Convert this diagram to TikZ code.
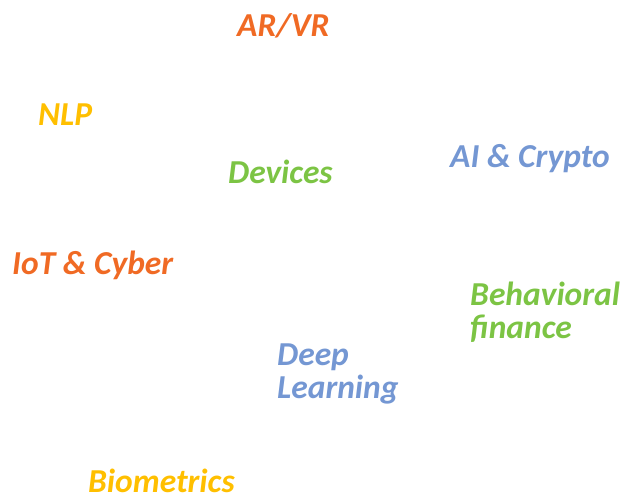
\documentclass[tikz,border=0pt]{standalone}
\usepackage{fontspec}
\setmainfont{Carlito}
\definecolor{tagorange}{HTML}{F06A24}
\definecolor{tagyellow}{HTML}{FFBF00}
\definecolor{taggreen}{HTML}{7CC444}
\definecolor{tagblue}{HTML}{7497D3}
\tikzset{tag/.style={anchor=base west,inner sep=0pt,align=left,font=\fontsize{33.5}{32.5}\selectfont\bfseries\itshape}}
\begin{document}
\begin{tikzpicture}[x=1pt,y=-1pt]
	\useasboundingbox (0,0) rectangle (626,500);
	\node[tag,text=tagorange] (arvr) at (237,37) {AR/VR};
	\node[tag,text=tagyellow] (nlp) at (38,125) {NLP};
	\node[tag,text=taggreen] (devices) at (228,183) {Devices};
	\node[tag,text=tagblue] (aicrypto) at (450,167) {AI \& Crypto};
	\node[tag,text=tagorange] (iotcyber) at (12,274) {IoT \& Cyber};
	% two-line tags sit on the baseline of their last line
	\node[tag,text=taggreen] (behavioral) at (470,338) {Behavioral\\finance};
	\node[tag,text=tagblue] (deep) at (277,398) {Deep\\Learning};
	\node[tag,text=tagyellow] (biometrics) at (88,492) {Biometrics};
\end{tikzpicture}
\end{document}
